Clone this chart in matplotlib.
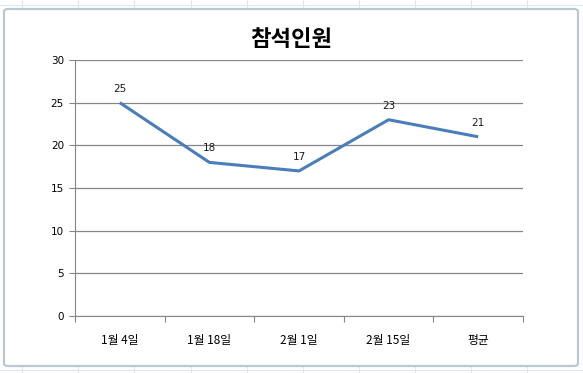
import matplotlib
matplotlib.use("Agg")
import matplotlib.pyplot as plt
from matplotlib.patches import FancyBboxPatch
from matplotlib.lines import Line2D

categories = ["1월 4일", "1월 18일", "2월 1일", "2월 15일", "평균"]
values = [25, 18, 17, 23, 21]
yticks = [0, 5, 10, 15, 20, 25, 30]
title = "참석인원"

plt.rcParams['font.family'] = ['Noto Sans CJK KR', 'DejaVu Sans']

W, H = 583, 373
fig = plt.figure(figsize=(W / 100, H / 100), dpi=100)
fig.patch.set_facecolor('white')

# spreadsheet grid behind the chart
for x in [22, 78, 134, 191, 247, 303, 359, 415, 471, 527, 583]:
    fig.add_artist(Line2D([x / W, x / W], [0, 1], color='#dde8f0', lw=0.8, zorder=0))
for y in [5, 370]:
    fig.add_artist(Line2D([0, 1], [1 - y / H, 1 - y / H], color='#dde8f0', lw=0.8, zorder=0))

# chart area with rounded border
x0, y0, x1, y1 = 4, 9, 578, 366
box = FancyBboxPatch((x0 / W, 1 - y1 / H), (x1 - x0) / W, (y1 - y0) / H,
                     boxstyle="round,pad=0,rounding_size=0.007",
                     transform=fig.transFigure, facecolor='white',
                     edgecolor='#b8c8d4', lw=1.6, zorder=1)
fig.add_artist(box)

ax = fig.add_axes([75 / W, 1 - 316 / H, 448 / W, 256 / H], zorder=2)
ax.set_facecolor('none')

x = list(range(len(categories)))
ax.plot(x, values, color='#4a7ebb', lw=2.2, solid_capstyle='butt', zorder=3)
for xi, v in zip(x, values):
    ax.annotate(str(v), (xi, v), xytext=(0, 6.5), textcoords='offset points',
                ha='center', va='bottom', fontsize=7.5, color='#1a1a1a',
                family=['DejaVu Sans'])

ax.set_xlim(-0.5, len(categories) - 0.5)
ax.set_ylim(0, 30)
ax.set_yticks(yticks)
ax.set_yticklabels([str(t) for t in yticks], fontsize=7.5, family=['DejaVu Sans'])
ax.yaxis.grid(True, color='#868686', lw=0.9)
ax.set_axisbelow(True)

ax.set_xticks([i - 0.5 for i in range(len(categories) + 1)])
ax.set_xticklabels([])
ax.set_xticks(x, minor=True)
ax.set_xticklabels(categories, minor=True, fontsize=8.5)
ax.tick_params(axis='x', which='minor', length=0, pad=13)
ax.tick_params(axis='x', which='major', length=4, color='#868686', direction='out')
ax.tick_params(axis='y', length=4, color='#868686', direction='out', pad=4)

for s in ['top', 'right']:
    ax.spines[s].set_visible(False)
ax.spines['left'].set_color('#868686')
ax.spines['bottom'].set_color('#868686')

fig.text(291 / W, 1 - 40 / H, title, ha='center', va='center',
         fontsize=16, fontweight='bold', color='black')

fig.savefig('out.png', dpi=100)
